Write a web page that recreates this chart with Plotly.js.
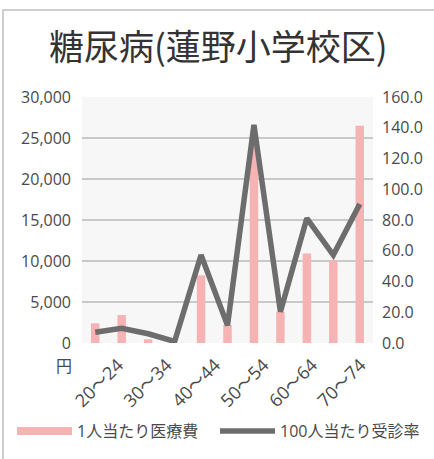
<!DOCTYPE html>
<html><head><meta charset="utf-8">
<script src="https://cdn.plot.ly/plotly-3.0.1.min.js"></script>
<style>
html,body{margin:0;padding:0;background:#fff;}
#wrap{position:relative;width:434px;height:459px;}
#chart{width:434px;height:459px;}
#frame{position:absolute;left:2px;top:9px;width:440px;height:460px;border-left:2px solid #cfcfcf;border-top:2px solid #cfcfcf;pointer-events:none;}
</style></head>
<body><div id="wrap"><div id="chart"></div><div id="frame"></div></div>
<script>
const categories = ["20〜24","25〜29","30〜34","35〜39","40〜44","45〜49","50〜54","55〜59","60〜64","65〜69","70〜74"];
const costPerPerson = [2400, 3400, 450, 0, 8250, 2200, 24300, 3800, 10900, 10100, 26500];
const visitRate = [7.0, 9.5, 6.0, 1.0, 57.2, 11.5, 141.8, 20.4, 81.1, 57.2, 90.4];
const tickLabels = ["20〜24","30〜34","40〜44","50〜54","60〜64","70〜74"];
const costName = "1人当たり医療費";
const rateName = "100人当たり受診率";
const titleText = "糖尿病(蓮野小学校区)";

const CJK = '"Noto Sans CJK JP", sans-serif';
const FONT = '"Open Sans", "Noto Sans CJK JP", sans-serif';
const PINK = '#f5b3b3';
const GRAY = '#6d6d6d';
const TXT = '#4a4a4a';

const traces = [
  {type:'bar', x:categories, y:costPerPerson, name:costName, marker:{color:PINK}, yaxis:'y', showlegend:false},
  {type:'scatter', mode:'lines', x:[null], y:[null], name:costName, line:{color:PINK, width:8},
   xaxis:'x2', yaxis:'y', showlegend:true, legend:'legend'},
  {type:'scatter', mode:'lines', x:categories, y:visitRate, name:rateName, line:{color:GRAY, width:5.5},
   yaxis:'y2', legend:'legend2'}
];

const legendCommon = {orientation:'h', xref:'container', yref:'container', xanchor:'left', y:1-431/459, yanchor:'middle',
  font:{family:FONT, size:16, color:TXT}, itemwidth:55, bgcolor:'rgba(0,0,0,0)'};

const layout = {
  width:434, height:459,
  margin:{l:82, r:61, t:97, b:116, autoexpand:false},
  paper_bgcolor:'#ffffff', plot_bgcolor:'#f7f7f7',
  font:{family:FONT, color:TXT, size:16},
  title:{text:titleText, font:{family:CJK, size:35, color:'#333'}, x:0.503, xanchor:'center',
         xref:'container', yref:'container', y:1-48/459, yanchor:'middle'},
  bargap:0.68,
  xaxis:{type:'category', showticklabels:false, showgrid:false, zeroline:false, showline:false, ticks:'', automargin:false},
  xaxis2:{type:'linear', overlaying:'x', anchor:'y', side:'bottom', range:[0, tickLabels.length],
          tickmode:'array', tickvals:tickLabels.map((_, i) => i + 0.5), ticktext:tickLabels, tickangle:-45,
          showgrid:false, zeroline:false, showline:false, ticks:'', ticklabelshift:12, ticklabelstandoff:7,
          tickfont:{family:FONT, size:18, color:TXT}, automargin:false},
  yaxis:{range:[0,30000], dtick:5000, tickformat:',d', showgrid:true, gridcolor:'#c9c9c9', gridwidth:2,
         zeroline:false, showline:false, ticks:'', tickfont:{family:FONT, size:16, color:TXT}, ticklabelstandoff:10, automargin:false},
  yaxis2:{range:[0,160], dtick:20, tickformat:'.1f', overlaying:'y', side:'right', showgrid:false,
          zeroline:false, showline:false, ticks:'', tickfont:{family:FONT, size:16, color:TXT}, ticklabelstandoff:8, automargin:false},
  legend:Object.assign({}, legendCommon, {x:12/434}),
  legend2:Object.assign({}, legendCommon, {x:215/434}),
  annotations:[{text:'円', xref:'paper', yref:'paper', x:-0.062, y:-0.09, xanchor:'center', yanchor:'middle',
                showarrow:false, font:{family:CJK, size:16, color:TXT}}]
};
Plotly.newPlot('chart', traces, layout, {displayModeBar:false, staticPlot:true});
</script></body></html>
